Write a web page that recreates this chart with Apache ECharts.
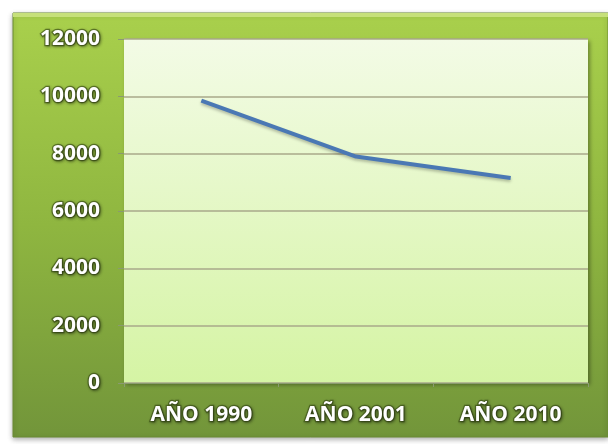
<!DOCTYPE html>
<html><head><meta charset="utf-8">
<script src="https://cdn.jsdelivr.net/npm/echarts@6/dist/echarts.min.js"></script>
<style>html,body{margin:0;padding:0;background:#fff}#c{width:608px;height:444px}</style>
</head><body><div id="c"></div>
<script>
const categories = ['AÑO 1990', 'AÑO 2001', 'AÑO 2010'];
const values = [9850, 7900, 7150];
const yTicks = { min: 0, max: 12000, interval: 2000 };

const chart = echarts.init(document.getElementById('c'));
const labelStyle = {
  color: '#ffffff', fontWeight: 'bold', fontSize: 21,
  fontFamily: 'Open Sans, Liberation Sans, sans-serif',
  textBorderColor: 'rgba(55,75,20,0.6)', textBorderWidth: 2.5,
  textShadowColor: 'rgba(0,0,0,0.4)', textShadowBlur: 3, textShadowOffsetX: 1, textShadowOffsetY: 1
};
chart.setOption({
  backgroundColor: '#ffffff',
  graphic: [{
    type: 'rect', z: -10, silent: true,
    shape: { x: 13, y: 13, width: 595, height: 424 },
    style: {
      fill: new echarts.graphic.LinearGradient(0, 0, 0, 1, [
        { offset: 0, color: '#a9d04c' },
        { offset: 0.5, color: '#8fb640' },
        { offset: 1, color: '#72953a' }
      ]),
      stroke: '#6a8a34', lineWidth: 1,
      shadowColor: 'rgba(0,0,0,0.3)', shadowBlur: 5, shadowOffsetY: 2
    }
  }, {
    type: 'rect', z: -9, silent: true,
    shape: { x: 13, y: 13, width: 595, height: 4 },
    style: { fill: '#c6e07a' }
  }],
  grid: {
    left: 124, top: 39, right: 20, bottom: 61,
    show: true, borderWidth: 0,
    backgroundColor: new echarts.graphic.LinearGradient(0, 0, 0, 1, [
      { offset: 0, color: '#f3fbe6' },
      { offset: 1, color: '#d5f4a4' }
    ]),
    shadowColor: 'rgba(0,0,0,0.35)', shadowBlur: 4, shadowOffsetX: 2, shadowOffsetY: 2
  },
  xAxis: {
    type: 'category', data: categories, boundaryGap: true,
    axisLine: { lineStyle: { color: '#8a9a70', width: 1 } },
    axisTick: { show: true, length: 4, lineStyle: { color: '#8a9a70' } },
    axisLabel: Object.assign({ margin: 22 }, labelStyle)
  },
  yAxis: {
    type: 'value', min: yTicks.min, max: yTicks.max, interval: yTicks.interval,
    axisLine: { show: false },
    axisTick: { show: true, length: 6, lineStyle: { color: '#8a9a70' } },
    splitLine: { lineStyle: { color: '#a8a88a', width: 1.5 } },
    axisLabel: Object.assign({ margin: 24, formatter: v => String(v) }, labelStyle)
  },
  series: [{
    type: 'line', data: values, symbol: 'none',
    lineStyle: { color: '#4a78b4', width: 4, shadowColor: 'rgba(0,0,0,0.25)', shadowBlur: 3, shadowOffsetY: 2 },
    itemStyle: { color: '#4a78b4' }
  }]
});
</script></body></html>
